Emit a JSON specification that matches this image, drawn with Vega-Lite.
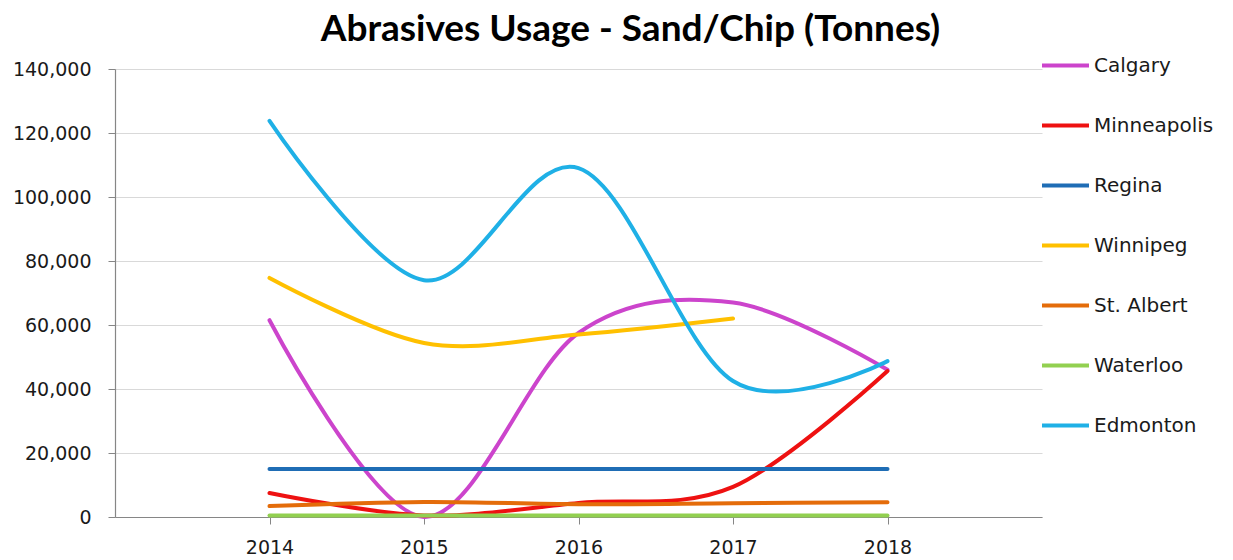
{
  "$schema": "https://vega.github.io/schema/vega-lite/v6.json",
  "width": 927,
  "height": 448,
  "autosize": {"type": "none"},
  "padding": {"left": 115, "top": 69, "right": 191, "bottom": 43},
  "background": "white",
  "title": {
    "text": "Abrasives Usage - Sand/Chip (Tonnes)",
    "font": "Lato",
    "fontSize": 37,
    "fontWeight": "bold",
    "color": "#000000",
    "anchor": "middle",
    "dx": 52,
    "offset": -9
  },
  "data": {
    "values": [
      {"city": "Calgary", "year": 2014, "value": 61500},
      {"city": "Calgary", "year": 2015, "value": 0},
      {"city": "Calgary", "year": 2016, "value": 57500},
      {"city": "Calgary", "year": 2017, "value": 67000},
      {"city": "Calgary", "year": 2018, "value": 46000},
      {"city": "Minneapolis", "year": 2014, "value": 7500},
      {"city": "Minneapolis", "year": 2015, "value": 500},
      {"city": "Minneapolis", "year": 2016, "value": 4400},
      {"city": "Minneapolis", "year": 2017, "value": 9400},
      {"city": "Minneapolis", "year": 2018, "value": 45600},
      {"city": "Regina", "year": 2014, "value": 15000},
      {"city": "Regina", "year": 2015, "value": 15000},
      {"city": "Regina", "year": 2016, "value": 15000},
      {"city": "Regina", "year": 2017, "value": 15000},
      {"city": "Regina", "year": 2018, "value": 15000},
      {"city": "Winnipeg", "year": 2014, "value": 74700},
      {"city": "Winnipeg", "year": 2015, "value": 54400},
      {"city": "Winnipeg", "year": 2016, "value": 57000},
      {"city": "Winnipeg", "year": 2017, "value": 62000},
      {"city": "St. Albert", "year": 2014, "value": 3400},
      {"city": "St. Albert", "year": 2015, "value": 4700},
      {"city": "St. Albert", "year": 2016, "value": 4000},
      {"city": "St. Albert", "year": 2017, "value": 4300},
      {"city": "St. Albert", "year": 2018, "value": 4600},
      {"city": "Waterloo", "year": 2014, "value": 500},
      {"city": "Waterloo", "year": 2015, "value": 500},
      {"city": "Waterloo", "year": 2016, "value": 500},
      {"city": "Waterloo", "year": 2017, "value": 500},
      {"city": "Waterloo", "year": 2018, "value": 500},
      {"city": "Edmonton", "year": 2014, "value": 123800},
      {"city": "Edmonton", "year": 2015, "value": 74000},
      {"city": "Edmonton", "year": 2016, "value": 109000},
      {"city": "Edmonton", "year": 2017, "value": 42500},
      {"city": "Edmonton", "year": 2018, "value": 48700}
    ]
  },
  "mark": {"type": "line", "interpolate": "cardinal", "strokeWidth": 4, "strokeCap": "round"},
  "encoding": {
    "x": {
      "field": "year",
      "type": "quantitative",
      "scale": {"domain": [2013, 2019], "nice": false, "zero": false},
      "axis": {
        "title": null,
        "values": [2014, 2015, 2016, 2017, 2018],
        "format": "d",
        "grid": false,
        "domainColor": "#868686",
        "domainWidth": 1.2,
        "tickColor": "#868686",
        "tickSize": 7,
        "labelPadding": 14,
        "labelFont": "DejaVu Sans",
        "labelFontSize": 19,
        "labelColor": "#1a1a1a"
      }
    },
    "y": {
      "field": "value",
      "type": "quantitative",
      "scale": {"domain": [0, 140000], "nice": false},
      "axis": {
        "title": null,
        "values": [0, 20000, 40000, 60000, 80000, 100000, 120000, 140000],
        "format": ",d",
        "grid": true,
        "gridColor": "#D9D9D9",
        "gridWidth": 1,
        "domainColor": "#868686",
        "domainWidth": 1.2,
        "tickColor": "#868686",
        "tickSize": 7,
        "labelPadding": 17,
        "labelFont": "DejaVu Sans",
        "labelFontSize": 19,
        "labelColor": "#1a1a1a"
      }
    },
    "color": {
      "field": "city",
      "type": "nominal",
      "sort": ["Calgary", "Minneapolis", "Regina", "Winnipeg", "St. Albert", "Waterloo", "Edmonton"],
      "scale": {
        "domain": ["Calgary", "Minneapolis", "Regina", "Winnipeg", "St. Albert", "Waterloo", "Edmonton"],
        "range": ["#CC44CC", "#EE1111", "#1F6DB5", "#FFC000", "#E46C0A", "#92D050", "#1FB0E6"]
      },
      "legend": {
        "title": null,
        "orient": "none",
        "legendX": 925,
        "legendY": -29,
        "padding": 0,
        "symbolType": "stroke",
        "symbolSize": 2209,
        "symbolStrokeWidth": 4,
        "labelFont": "DejaVu Sans",
        "labelFontSize": 20,
        "labelColor": "#1a1a1a",
        "labelOffset": 3,
        "rowPadding": 24
      }
    }
  },
  "config": {"view": {"stroke": null}}
}
